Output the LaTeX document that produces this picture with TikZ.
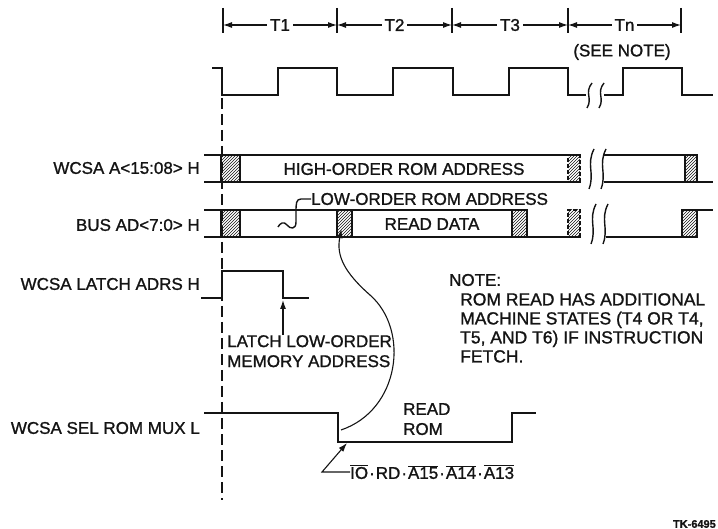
\documentclass[tikz,border=0pt]{standalone}
\usepackage{fontspec}
\setmainfont{Liberation Sans}[FakeBold=1.2]
\usepackage{tikz}
\usetikzlibrary{positioning,arrows,arrows.meta,patterns,calc}
\definecolor{ink}{HTML}{141414}
\tikzset{
  >=latex,
  every node/.style={font=\fontsize{17}{20}\selectfont, text=ink, inner sep=0pt},
  % --- nodes
  sig/.style   = {anchor=east},
  lbl/.style   = {align=left, anchor=north west},
  cell/.style  = {draw=ink, line width=2.2pt, pattern=north east lines, pattern color=ink,
                  minimum height=27pt, inner sep=0pt},
  ghost/.style = {cell, line width=1.6pt, dash pattern=on 4pt off 2pt},
  tag/.style   = {font=\fontsize{11}{12}\selectfont\bfseries},
  % --- edges
  wave/.style  = {line width=2.6pt, draw=ink, line cap=rect},
  ruler/.style = {{Latex[length=9pt,width=6pt]}-{Latex[length=9pt,width=6pt]}, line width=1.1pt, draw=ink},
  guide/.style = {line width=1.3pt, draw=ink, dash pattern=on 11pt off 5pt},
  ptr/.style   = {-{Latex[length=9pt,width=6pt]}, line width=1.1pt, draw=ink},
  brk/.style   = {line width=1.4pt, draw=ink},
}
\newcommand{\squig}[3]{% x, top, bottom
  \draw[brk] (#1+3,#2) .. controls (#1-5,#2+0.4*#3-0.4*#2) and (#1+4,#2+0.6*#3-0.6*#2) .. (#1-2,#3);}
\newcommand{\negsig}[1]{$\overline{\mbox{#1}}$}
\newcommand{\andsep}{\kern1pt·\kern1pt}

\begin{document}
\begin{tikzpicture}[x=1pt,y=-1pt]
  \useasboundingbox (0,0) rectangle (718,529);

  % time slots
  \foreach \x in {223,337,452,568,681}
    \draw[line width=1.2pt, draw=ink] (\x,8) -- (\x,33);
  \foreach \a/\b/\t in {223/337/T1,337/452/T2,452/568/T3,568/681/Tn}
    \draw[ruler] (\a,25) -- (\b,25) node[midway, fill=white, inner xsep=3pt] (slot\t) {\t};
  \node (seenote) at (622,52) {(SEE NOTE)};

  % clock
  \draw[wave] (213,68) -- (222,68);
  \foreach \x in {222,337,453}
    \draw[wave] (\x,68) -- (\x,95) -- (\x+56,95) -- (\x+56,68) -- (\x+115,68);
  \draw[wave] (568,68) -- (568,95) -- (585,95);
  \draw[wave] (605,95) -- (623,95) -- (623,68) -- (682,68) -- (682,95) -- (712,95);
  \squig{589}{83}{108}
  \squig{601}{83}{108}

  \draw[guide] (222,98) -- (222,500);

  % WCSA A<15:08> H
  \node[sig] (hiaddr) at (200,168) {WCSA A<15:08> H};
  \draw[wave] (205,155) -- (580,155) (205,182) -- (580,182);
  \draw[wave] (605,155) -- (685,155) (605,182) -- (712,182);
  \node[cell, minimum width=19pt] (hi0) at (230.5,168.5) {};
  \node[ghost, minimum width=12pt] (hi1) at (574,168.5) {};
  \node[cell, minimum width=12pt] (hi2) at (691,168.5) {};
  \squig{591}{149}{189}
  \squig{603}{149}{189}
  \node (hitext) at (404,169) {HIGH-ORDER ROM ADDRESS};

  % BUS AD<7:0> H
  \node[sig] (lobus) at (200,225) {BUS AD<7:0> H};
  \draw[wave] (205,210) -- (512,210) (205,237) -- (580,237);
  \draw[wave] (607,237) -- (682,237) (697,210) -- (712,210);
  \node[cell, minimum width=19pt] (lo0) at (230.5,223.5) {};
  \node[cell, minimum width=15pt] (lo1) at (344.5,223.5) {};
  \node[cell, minimum width=15pt] (lo2) at (519.5,223.5) {};
  \node[ghost, minimum width=12pt] (lo3) at (574,223.5) {};
  \node[cell, minimum width=15pt] (lo4) at (689.5,223.5) {};
  \squig{593}{204}{244}
  \squig{605}{204}{244}
  \node (rdtext) at (432,224) {READ DATA};
  \node[anchor=west] (lotext) at (311,199) {LOW-ORDER ROM ADDRESS};
  \draw[brk] (lotext.west) -- (301,199) .. controls (296,199) and (296,204) .. (296,212)
    -- (296,222) .. controls (296,230) and (290,229) .. (287,225)
    .. controls (284,221) and (280,223) .. (278,227);

  % WCSA LATCH ADRS H
  \node[sig] (latch) at (200,284) {WCSA LATCH ADRS H};
  \draw[wave] (202,298) -- (222,298) -- (222,271) -- (283,271) -- (283,298) coordinate (latchfall) -- (308,298);
  \node[lbl] (latchnote) at (227,335) {LATCH LOW-ORDER\\MEMORY ADDRESS};
  \draw[ptr] (latchnote.north -| latchfall) -- ([yshift=-2pt]latchfall);

  % WCSA SEL ROM MUX L
  \node[sig] (romsel) at (200,428) {WCSA SEL ROM MUX L};
  \draw[wave] (205,413) -- (338,413) -- (338,442) -- (512,442) -- (512,413) -- (535,413);
  \coordinate (muxedge) at (341,430);
  \coordinate (muxlow) at (347,443);
  \node[lbl, font=\fontsize{17}{20}\selectfont] (readrom) at (403,403) {READ\\ROM};
  \node[anchor=west] (decode) at (350,472)
    {\negsig{IO}\andsep RD\andsep\negsig{A15}\andsep\negsig{A14}\andsep\negsig{A13}};
  \draw[ptr] (decode.west) -- ++(-28,0) -- (muxlow);
  \draw[ptr] (muxedge) .. controls (400,410) and (410,330) .. (370,295)
    .. controls (345,273) and (336,256) .. ([xshift=-3pt,yshift=9pt]lo1.south);

  % note
  \node[anchor=west] (notehead) at (449,280) {NOTE:};
  \node[lbl, font=\fontsize{17.5}{19}\selectfont] (notebody) at (460,293)
    {ROM READ HAS ADDITIONAL\\MACHINE STATES (T4 OR T4,\\T5, AND T6) IF INSTRUCTION\\FETCH.};

  \node[tag, anchor=east] (figid) at (716,524) {TK-6495};
\end{tikzpicture}
\end{document}
